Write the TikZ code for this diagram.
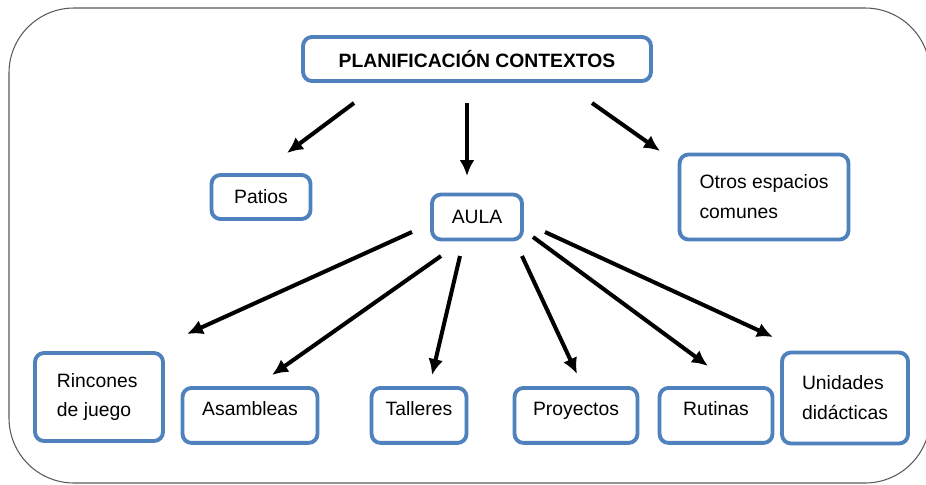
\documentclass[tikz,border=0pt]{standalone}
\usepackage{fontspec}
\setmainfont{Liberation Sans}
\usepackage{tikz}
\usetikzlibrary{arrows.meta,positioning,calc}

\definecolor{azulcaja}{RGB}{79,129,189}

\begin{document}
\begin{tikzpicture}[
x=0.02cm,y=-0.02cm,
caja/.style={
draw=azulcaja,
line width=2.2pt,
rounded corners=0.18cm,
fill=white,
align=left,
inner sep=0pt,
font=\fontsize{11}{17}\selectfont
},
hoja/.style={
caja,
text height=0.56cm,
text depth=0.54cm
},
flecha/.style={-{Latex[length=3.2mm,width=3mm]},line width=2.3pt}
]

\useasboundingbox (0,0) rectangle (926,484);
\draw[gray!70!black,line width=0.6pt,rounded corners=1.3cm] (9,8) rectangle (930,483);

\node[caja,minimum width=6.96cm,minimum height=0.88cm,
font=\fontsize{11}{13}\selectfont\bfseries] (titulo) at (477,59)
{PLANIFICACIÓN CONTEXTOS};

\node[caja,minimum width=1.98cm,minimum height=0.88cm] (patios) at (261,197) {Patios};
\node[caja,minimum width=1.8cm,minimum height=0.9cm] (aula) at (477,217) {AULA};
\node[caja,minimum width=3.38cm,minimum height=1.7cm] (otros) at (764,197)
{Otros espacios\\comunes};

\node[caja,minimum width=2.56cm,minimum height=1.76cm] (rincones) at (99,397)
{Rincones\\de juego\hspace*{0.2cm}};
\node[hoja,minimum width=2.7cm] (asambleas) at (250,386) [anchor=north] {Asambleas};
\node[hoja,minimum width=1.9cm] (talleres) at (419,386) [anchor=north] {Talleres};
\node[hoja,minimum width=2.46cm] (proyectos) at (576,386) [anchor=north] {Proyectos};
\node[hoja,minimum width=2.26cm] (rutinas) at (716,386) [anchor=north] {Rutinas};
\node[caja,minimum width=2.52cm,minimum height=1.82cm] (unidades) at (845,398)
{Unidades\\didácticas};

% extremos libres de las flechas
\coordinate (t1) at (354,103); \coordinate (p1) at (287,153);
\coordinate (t2) at (467,103); \coordinate (a1) at (467,176);
\coordinate (t3) at (592,103); \coordinate (o1) at (660,151);

\coordinate (r0) at (412,232); \coordinate (r1) at (187,334);
\coordinate (s0) at (441,256); \coordinate (s1) at (272,375);
\coordinate (l0) at (460,256); \coordinate (l1) at (432,375);
\coordinate (y0) at (522,256); \coordinate (y1) at (577,374);
\coordinate (u0) at (533,237); \coordinate (u1) at (708,366);
\coordinate (d0) at (545,232); \coordinate (d1) at (773,337);

\draw[flecha] (t1)--(p1);
\draw[flecha] (t2)--(a1);
\draw[flecha] (t3)--(o1);

\draw[flecha] (r0)--(r1);
\draw[flecha] (s0)--(s1);
\draw[flecha] (l0)--(l1);
\draw[flecha] (y0)--(y1);
\draw[flecha] (u0)--(u1);
\draw[flecha] (d0)--(d1);

\end{tikzpicture}
\end{document}
